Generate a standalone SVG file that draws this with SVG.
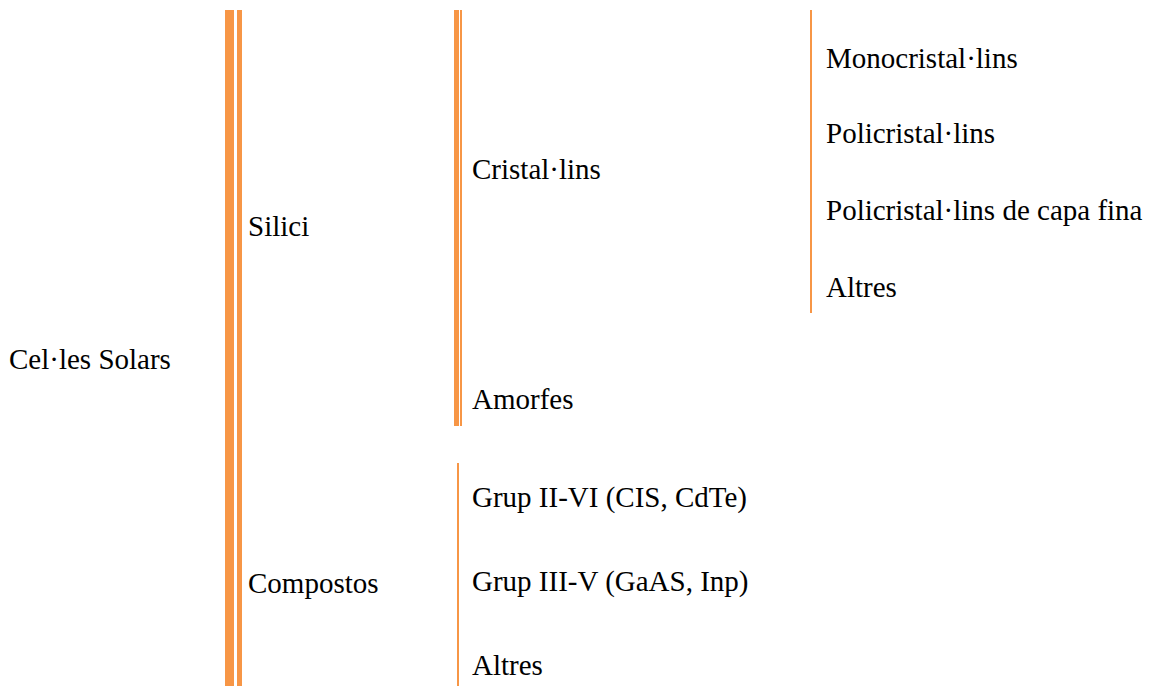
<svg xmlns="http://www.w3.org/2000/svg" width="1151" height="686" viewBox="0 0 1151 686">
<style>
.t { font-family: 'Liberation Serif', 'Times New Roman', Times, serif; font-size: 29px; fill: #000; }
.bar { fill: #F79646; }
</style>
<rect width="1151" height="686" fill="#fff"/>
<g id="connectors">
<rect class="bar" x="225" y="10" width="9" height="676"/>
<rect class="bar" x="237" y="10" width="5" height="676"/>
<rect class="bar" x="454" y="10" width="5" height="416"/>
<rect class="bar" x="460" y="10" width="2" height="416"/>
<rect class="bar" x="457" y="463" width="2" height="223"/>
<rect class="bar" x="810" y="10" width="2" height="303"/>
</g>
<g class="t" font-family="Liberation Serif, serif">
<g id="root"><text x="9" y="369">Cel·les Solars</text></g>
<g id="silici"><text x="248" y="236">Silici</text></g>
<g id="compostos"><text x="248" y="593">Compostos</text></g>
<g id="cristallins"><text x="472" y="179">Cristal·lins</text></g>
<g id="amorfes"><text x="472" y="409">Amorfes</text></g>
<g id="grup26"><text x="472" y="507">Grup II-VI (CIS, CdTe)</text></g>
<g id="grup35"><text x="472" y="591">Grup III-V (GaAS, Inp)</text></g>
<g id="altres2"><text x="472" y="675">Altres</text></g>
<g id="mono"><text x="826" y="68">Monocristal·lins</text></g>
<g id="poli"><text x="826" y="143">Policristal·lins</text></g>
<g id="policapa"><text x="826" y="220">Policristal·lins de capa fina</text></g>
<g id="altres1"><text x="826" y="297">Altres</text></g>
</g>
</svg>
